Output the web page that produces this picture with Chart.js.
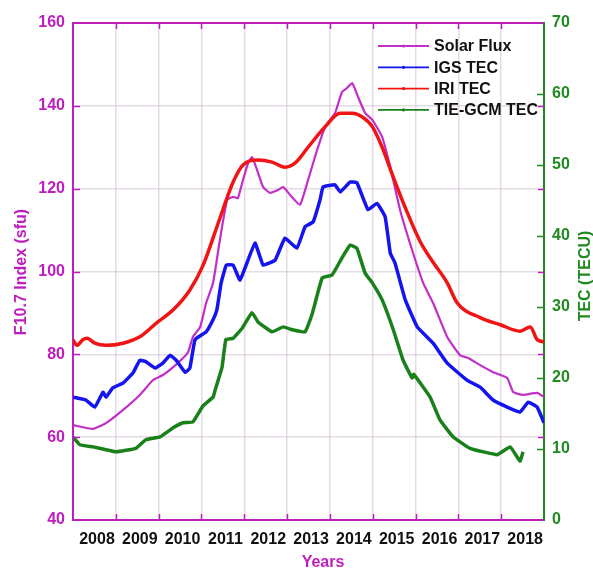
<!DOCTYPE html>
<html>
<head>
<meta charset="utf-8">
<script src="https://cdn.jsdelivr.net/npm/chart.js"></script>
<style>
html,body{margin:0;padding:0;background:#fff;}
#wrap{width:593px;height:568px;position:relative;}
</style>
</head>
<body>
<div id="wrap"><canvas id="c" width="593" height="568"></canvas></div>
<script>
// ---- data (decimal years / values) ----
const yearLabels = [2008, 2009, 2010, 2011, 2012, 2013, 2014, 2015, 2016, 2017, 2018];
const leftTicks = [40, 60, 80, 100, 120, 140, 160];
const rightTicks = [0, 10, 20, 30, 40, 50, 60, 70];

const sfYears = [2007.44,2007.91,2008.21,2008.61,2009.00,2009.31,2009.54,2009.78,2010.01,2010.13,2010.24,2010.41,2010.55,2010.71,2010.87,2011.04,2011.18,2011.29,2011.41,2011.53,2011.62,2011.74,2011.88,2012.04,2012.23,2012.35,2012.51,2012.74,2012.93,2013.14,2013.33,2013.56,2013.72,2013.84,2013.96,2014.10,2014.26,2014.43,2014.66,2014.85,2015.08,2015.36,2015.62,2015.85,2016.18,2016.48,2016.67,2016.95,2017.25,2017.58,2017.72,2017.95,2018.28,2018.44];
const sfValues = [62.9,62.0,63.4,66.6,70.2,73.8,75.0,76.9,79.1,80.6,84.2,86.6,92.4,97.2,107.6,117.3,118.0,117.7,122.1,126.2,127.6,124.5,120.4,119.0,119.7,120.4,118.5,116.1,122.1,129.3,134.9,138.3,143.3,144.3,145.5,142.1,138.3,136.6,132.5,125.2,114.8,105.2,97.2,92.4,84.2,79.8,79.1,77.4,75.7,74.3,70.9,70.2,70.7,69.7];

const igsYears = [2007.44,2007.74,2007.95,2008.14,2008.21,2008.37,2008.61,2008.84,2009.00,2009.14,2009.36,2009.54,2009.71,2009.85,2010.06,2010.17,2010.29,2010.55,2010.71,2010.80,2010.90,2011.02,2011.18,2011.34,2011.69,2011.88,2012.16,2012.39,2012.67,2012.86,2013.05,2013.21,2013.28,2013.56,2013.68,2013.91,2014.07,2014.33,2014.54,2014.73,2014.85,2014.96,2015.20,2015.48,2015.85,2016.18,2016.64,2016.95,2017.25,2017.58,2017.88,2018.07,2018.28,2018.44];
const igsValues = [17.3,16.9,15.9,18.0,17.3,18.6,19.3,20.7,22.5,22.3,21.4,22.1,23.2,22.5,20.8,21.4,25.4,26.5,28.2,29.6,33.4,35.9,35.9,33.8,39.0,35.9,36.6,39.7,38.3,41.3,42.0,45.1,46.9,47.2,46.2,47.6,47.5,43.7,44.6,42.7,37.6,36.2,31.0,27.2,24.9,22.1,19.7,18.7,16.9,15.9,15.2,16.6,15.9,13.7];

const iriYears = [2007.44,2007.53,2007.67,2007.77,2007.95,2008.21,2008.61,2009.00,2009.38,2009.78,2010.17,2010.48,2010.71,2010.94,2011.18,2011.41,2011.76,2012.09,2012.39,2012.63,2012.93,2013.33,2013.68,2013.96,2014.19,2014.43,2014.66,2014.92,2015.22,2015.55,2015.85,2016.18,2016.41,2016.95,2017.42,2017.88,2018.12,2018.28,2018.44];
const iriValues = [25.4,24.6,25.4,25.6,24.9,24.6,24.9,25.8,27.7,29.6,32.4,35.9,39.7,43.7,47.6,50.0,50.7,50.4,49.7,50.3,52.5,55.4,57.3,57.3,56.8,55.4,52.5,48.3,43.7,39.2,36.3,33.4,30.6,28.5,27.5,26.6,27.2,25.4,25.1];

const tieYears = [2007.44,2007.60,2007.91,2008.21,2008.44,2008.91,2009.14,2009.47,2009.78,2010.01,2010.24,2010.48,2010.71,2010.76,2010.92,2011.01,2011.18,2011.39,2011.62,2011.76,2012.09,2012.35,2012.56,2012.86,2013.02,2013.26,2013.49,2013.72,2013.91,2014.07,2014.26,2014.43,2014.66,2014.92,2015.15,2015.36,2015.40,2015.78,2016.01,2016.32,2016.71,2017.35,2017.65,2017.88,2017.95];
const tieValues = [11.7,10.6,10.3,9.9,9.6,10.1,11.3,11.7,13.0,13.7,13.8,16.1,17.3,18.3,21.5,25.4,25.6,27.0,29.2,27.9,26.5,27.2,26.8,26.5,28.9,34.1,34.5,36.9,38.7,38.3,34.8,33.4,31.0,26.8,22.5,20.0,20.5,17.3,14.1,11.7,10.1,9.2,10.3,8.3,9.6];

const seriesNames = ['Solar Flux', 'IGS TEC', 'IRI TEC', 'TIE-GCM TEC'];

// ---- styles ----
const MAG = '#bd1ebd';
const GRN = '#1f8a1f';
const xMin = 2007.44, xMax = 2018.44;
const FONT = 'bold 16px "Liberation Sans", Arial, sans-serif';

function pts(xs, ys){ return xs.map((x,i)=>({x:x, y:ys[i]})); }

const overlay = {
  id: 'overlay',
  afterDatasetsDraw(chart){
    const ctx = chart.ctx;
    const ca = chart.chartArea;
    const xs = chart.scales.x, yl = chart.scales.y, yr = chart.scales.y2;
    ctx.save();
    ctx.lineWidth = 1.5;
    // inward ticks top/bottom at year grid
    ctx.strokeStyle = MAG;
    for (let k = 1; k <= 10; k++) {
      const px = Math.round(xs.getPixelForValue(xMin + k)) + 0.5;
      ctx.beginPath(); ctx.moveTo(px, ca.bottom); ctx.lineTo(px, ca.bottom - 6); ctx.stroke();
      ctx.beginPath(); ctx.moveTo(px, ca.top); ctx.lineTo(px, ca.top + 6); ctx.stroke();
    }
    // left ticks (and right-side copies)
    leftTicks.forEach(v => {
      if (v === 40 || v === 160) return;
      const py = Math.round(yl.getPixelForValue(v)) + 0.5;
      ctx.beginPath(); ctx.moveTo(ca.left, py); ctx.lineTo(ca.left + 7, py); ctx.stroke();
      ctx.beginPath(); ctx.moveTo(ca.right, py); ctx.lineTo(ca.right - 6, py); ctx.stroke();
    });
    ctx.strokeStyle = GRN;
    rightTicks.forEach(v => {
      if (v === 0 || v === 70) return;
      const py = Math.round(yr.getPixelForValue(v)) + 0.5;
      ctx.beginPath(); ctx.moveTo(ca.right, py); ctx.lineTo(ca.right - 7, py); ctx.stroke();
    });
    // legend
    const lx0 = 378, lx1 = 429, ty0 = 46, dy = 21.3;
    ctx.font = FONT;
    ctx.textBaseline = 'middle';
    ctx.textAlign = 'left';
    chart.data.datasets.forEach((ds, i) => {
      const y = ty0 + i * dy;
      ctx.strokeStyle = ds.borderColor;
      ctx.lineWidth = 1.8;
      ctx.beginPath(); ctx.moveTo(lx0, y); ctx.lineTo(lx1, y); ctx.stroke();
      ctx.fillStyle = ds.borderColor;
      ctx.beginPath(); ctx.arc((lx0 + lx1) / 2, y, 1.6, 0, Math.PI * 2); ctx.fill();
      ctx.fillStyle = '#111';
      ctx.fillText(ds.label, 434, y + 1);
    });
    // axis titles
    ctx.font = FONT;
    ctx.fillStyle = MAG;
    ctx.textAlign = 'center';
    ctx.textBaseline = 'alphabetic';
    ctx.fillText('Years', 323, 567);
    ctx.save();
    ctx.translate(22, 272);
    ctx.rotate(-Math.PI / 2);
    ctx.textBaseline = 'middle';
    ctx.fillText('F10.7 Index (sfu)', 0, 0);
    ctx.restore();
    ctx.save();
    ctx.fillStyle = GRN;
    ctx.translate(586, 276);
    ctx.rotate(-Math.PI / 2);
    ctx.textBaseline = 'middle';
    ctx.fillText('TEC (TECU)', 0, 0);
    ctx.restore();
    ctx.restore();
  }
};

const gridColor = 'rgba(205,190,208,0.55)';

new Chart(document.getElementById('c'), {
  type: 'line',
  data: {
    datasets: [
      { label: seriesNames[0], data: pts(sfYears, sfValues), yAxisID: 'y', borderColor: '#c22ec8', borderWidth: 2.2, pointRadius: 0, tension: 0.15, order: 4 },
      { label: seriesNames[1], data: pts(igsYears, igsValues), yAxisID: 'y2', borderColor: '#1414f0', borderWidth: 3.5, pointRadius: 0, tension: 0.1, order: 3 },
      { label: seriesNames[2], data: pts(iriYears, iriValues), yAxisID: 'y2', borderColor: '#f01414', borderWidth: 3.5, pointRadius: 0, cubicInterpolationMode: 'monotone', order: 2 },
      { label: seriesNames[3], data: pts(tieYears, tieValues), yAxisID: 'y2', borderColor: '#1a801a', borderWidth: 3.5, pointRadius: 0, tension: 0.1, order: 1 }
    ]
  },
  options: {
    responsive: false,
    devicePixelRatio: 1,
    animation: false,
    layout: { padding: 0 },
    plugins: { legend: { display: false }, tooltip: { enabled: false } },
    scales: {
      x: {
        type: 'linear', position: 'bottom', min: xMin, max: xMax,
        afterBuildTicks: s => { s.ticks = yearLabels.map(v => ({ value: v })); },
        afterFit: s => { s.height = 48; },
        grid: { display: false, drawTicks: false },
        border: { display: true, color: MAG, width: 2 },
        ticks: { color: '#111', font: { family: '"Liberation Sans", Arial', size: 16, weight: 'bold' }, padding: 10, maxRotation: 0, autoSkip: false, callback: v => String(v) }
      },
      xg: {
        type: 'linear', position: 'top', min: xMin, max: xMax,
        afterBuildTicks: s => { const t = []; for (let k = 1; k <= 10; k++) t.push({ value: xMin + k }); s.ticks = t; },
        afterFit: s => { s.height = 23; },
        grid: { display: true, color: gridColor, lineWidth: 1.5, drawTicks: false },
        border: { display: true, color: MAG, width: 2 },
        ticks: { display: false }
      },
      y: {
        position: 'left', min: 40, max: 160,
        afterBuildTicks: s => { s.ticks = leftTicks.map(v => ({ value: v })); },
        afterFit: s => { s.width = 73; },
        grid: { color: gridColor, lineWidth: 1.5, drawTicks: false },
        border: { display: true, color: MAG, width: 2 },
        ticks: { color: MAG, font: { family: '"Liberation Sans", Arial', size: 16, weight: 'bold' }, padding: 8 }
      },
      y2: {
        position: 'right', min: 0, max: 70,
        afterBuildTicks: s => { s.ticks = rightTicks.map(v => ({ value: v })); },
        afterFit: s => { s.width = 49; },
        grid: { drawOnChartArea: false, drawTicks: false },
        border: { display: true, color: GRN, width: 2 },
        ticks: { color: GRN, font: { family: '"Liberation Sans", Arial', size: 16, weight: 'bold' }, padding: 8 }
      }
    }
  },
  plugins: [overlay]
});
</script>
</body>
</html>
